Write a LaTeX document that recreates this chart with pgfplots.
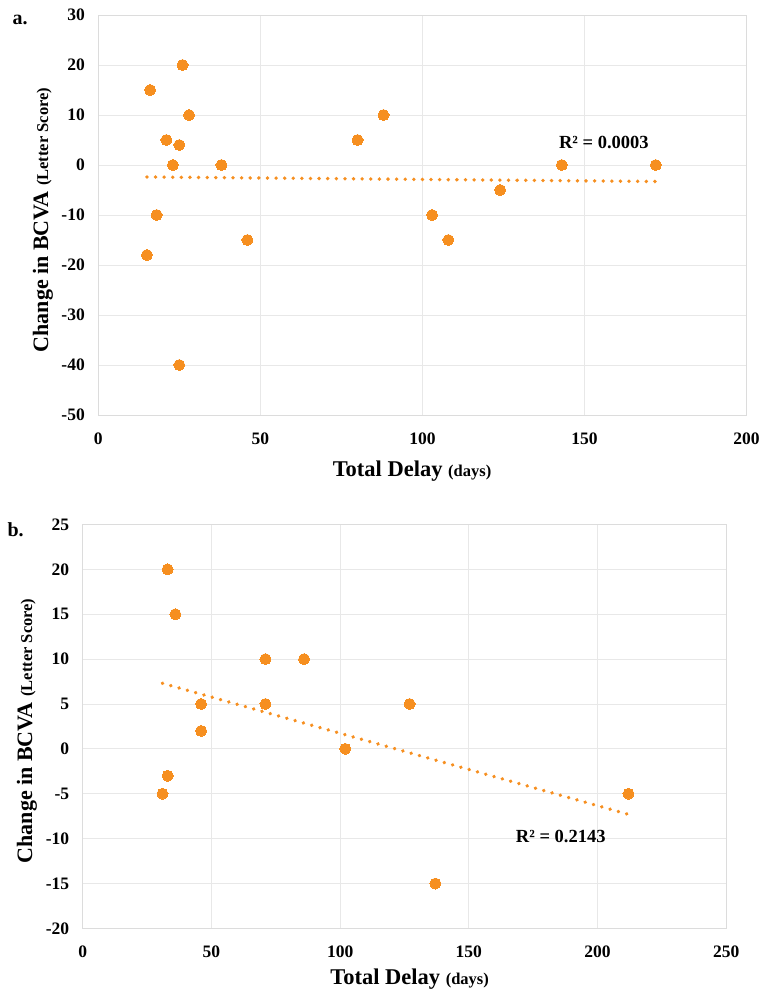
\documentclass[border=0pt]{standalone}
\usepackage{fontspec}
\setmainfont{Liberation Serif}
\usepackage{pgfplots}
\pgfplotsset{compat=1.18}
\definecolor{dotorange}{RGB}{246,143,32}
\definecolor{gridc}{RGB}{232,232,232}
\definecolor{framec}{RGB}{220,220,220}
\pgfplotsset{
  excel/.style={
    scale only axis,
    grid=major,
    major grid style={draw=gridc, line width=0.9pt},
    axis line style={draw=framec, line width=0.9pt},
    major tick length=0pt,
    tick style={draw=none},
    /pgf/number format/assume math mode=true,
    ticklabel style={font=\bfseries\fontsize{17.5}{17.5}\selectfont},
    yticklabel style={xshift=-10pt},
    xticklabel style={yshift=-14pt},
    clip=false,
  },
  pts/.style={only marks, mark=*, mark size=5.5pt, mark options={fill=dotorange, draw=dotorange, line width=0pt}},
  trend/.style={no marks, draw=dotorange, line width=3.8pt, line cap=round, dash pattern=on 0.01pt off 8.6pt},
}
\begin{document}
\begin{tikzpicture}[x=1pt,y=1pt]
\path[use as bounding box] (0,0) rectangle (761,991);
% ---------- panel a ----------
\begin{axis}[excel,
  at={(98.3pt,576pt)}, anchor=south west,
  width=648.2pt, height=400pt,
  xmin=0, xmax=200, ymin=-50, ymax=30,
  xtick={0,50,100,150,200}, ytick={-50,-40,-30,-20,-10,0,10,20,30},
  xlabel={\bfseries\fontsize{22.5}{22.5}\selectfont Total Delay {\fontsize{16.5}{16.5}\selectfont (days)}},
  xlabel style={at={(axis description cs:0.484,0)}, anchor=base, yshift=-62pt},
  ylabel={\bfseries\fontsize{22}{22}\selectfont Change in BCVA {\fontsize{16.5}{16.5}\selectfont (Letter Score)}},
  ylabel style={at={(axis description cs:-0.0853,0.4875)}, anchor=center},
]
\addplot[trend] coordinates {(15,-2.4) (172,-3.3)};
\addplot[pts] coordinates {
(26,20) (16,15) (28,10) (21,5) (25,4) (23,0) (38,0) (18,-10) (15,-18)
(46,-15) (25,-40) (80,5) (88,10) (103,-10) (108,-15) (124,-5) (143,0) (172,0)
};
\node[anchor=base, font=\bfseries\fontsize{18.5}{18.5}\selectfont] at (axis cs:156,3.3) {R² = 0.0003};
\end{axis}
\node[anchor=base west, font=\bfseries\fontsize{20}{20}\selectfont] at (9,966) {a.};
% ---------- panel b ----------
\begin{axis}[excel,
  at={(82.7pt,62.6pt)}, anchor=south west,
  width=643.6pt, height=404pt,
  xmin=0, xmax=250, ymin=-20, ymax=25,
  xtick={0,50,100,150,200,250}, ytick={-20,-15,-10,-5,0,5,10,15,20,25},
  xlabel={\bfseries\fontsize{22.5}{22.5}\selectfont Total Delay {\fontsize{16.5}{16.5}\selectfont (days)}},
  xlabel style={at={(axis description cs:0.508,0)}, anchor=base, yshift=-56pt},
  ylabel={\bfseries\fontsize{22}{22}\selectfont Change in BCVA {\fontsize{16.5}{16.5}\selectfont (Letter Score)}},
  ylabel style={at={(axis description cs:-0.0865,0.489)}, anchor=center},
]
\addplot[trend] coordinates {(31,7.3) (212,-7.3)};
\addplot[pts] coordinates {
(33,20) (36,15) (71,10) (86,10) (46,5) (71,5) (46,2) (33,-3) (31,-5)
(102,0) (127,5) (212,-5) (137,-15)
};
\node[anchor=base, font=\bfseries\fontsize{18.5}{18.5}\selectfont] at (axis cs:185.7,-10.46) {R² = 0.2143};
\end{axis}
\node[anchor=base west, font=\bfseries\fontsize{20}{20}\selectfont] at (4,454) {b.};
\end{tikzpicture}
\end{document}
